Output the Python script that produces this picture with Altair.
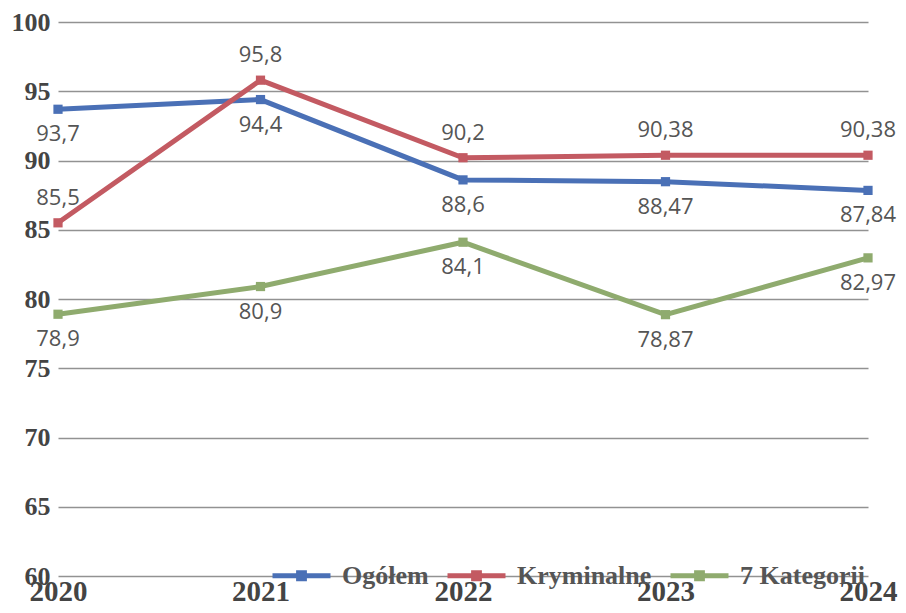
import altair as alt
import pandas as pd

years = [2020, 2021, 2022, 2023, 2024]
series_names = ["Ogółem", "Kryminalne", "7 Kategorii"]
ogolem = [93.7, 94.4, 88.6, 88.47, 87.84]
kryminalne = [85.5, 95.8, 90.2, 90.38, 90.38]
kategorii = [78.9, 80.9, 84.1, 78.87, 82.97]
colors = ["#4a70b6", "#c35a62", "#8fab6e"]
y_ticks = [60, 65, 70, 75, 80, 85, 90, 95, 100]

rows = []
for name, vals in zip(series_names, [ogolem, kryminalne, kategorii]):
    for yr, v in zip(years, vals):
        rows.append({"year": yr, "series": name, "value": v,
                     "label": f"{v:g}".replace(".", ",")})
df = pd.DataFrame(rows)

legend_path = "M-1,0H1M-0.1,-0.1H0.1V0.1H-0.1Z"

x = alt.X("year:Q", scale=alt.Scale(domain=[2020, 2024], nice=False, zero=False),
          axis=alt.Axis(values=years, format="d", labelFlush=False, grid=False,
                        domain=False, ticks=False, labelPadding=1,
                        labelFont="Liberation Serif", labelFontWeight="bold",
                        labelFontSize=29, labelColor="#444444"),
          title=None)
y = alt.Y("value:Q", scale=alt.Scale(domain=[60, 100], nice=False, zero=False),
          axis=alt.Axis(values=y_ticks, grid=True, gridColor="#929292", gridWidth=1.5,
                        domain=False, ticks=False, labelPadding=8,
                        labelFont="Liberation Serif", labelFontWeight="bold",
                        labelFontSize=26, labelColor="#444444"),
          title=None)
stroke_c = alt.Stroke("series:N", scale=alt.Scale(domain=series_names, range=colors),
                      sort=series_names,
                      legend=alt.Legend(title=None, orient="none", direction="horizontal",
                                        legendX=212, legendY=522, padding=0,
                                        symbolType=legend_path, symbolSize=3364,
                                        symbolStrokeWidth=5, symbolOpacity=1,
                                        labelOffset=9, columnPadding=8,
                                        labelFont="Liberation Serif", labelFontWeight="bold",
                                        labelFontSize=26, labelColor="#555555"))
fill_c = alt.Fill("series:N", scale=alt.Scale(domain=series_names, range=colors),
                  sort=series_names, legend=None)

base = alt.Chart(df)
lines = base.mark_line(strokeWidth=5).encode(x=x, y=y, stroke=stroke_c)
points = base.mark_point(shape="square", filled=True, size=85, opacity=1).encode(
    x=x, y=y, fill=fill_c)
lab_font = dict(font="Open Sans", fontSize=22, color="#555555", align="center", baseline="middle")
above = base.transform_filter(alt.datum.series == "Kryminalne").mark_text(dy=-25, **lab_font).encode(
    x=x, y=y, text="label:N")
below = base.transform_filter(alt.datum.series != "Kryminalne").mark_text(dy=25, **lab_font).encode(
    x=x, y=y, text="label:N")

chart = alt.layer(lines, points, above, below).properties(
    width=810, height=554,
    autosize=alt.AutoSizeParams(type="none"),
    padding={"left": 50, "top": 14, "right": 30, "bottom": 29},
    background="white",
).configure_view(stroke=None)

chart.save("out.html", embed_options={"renderer": "svg", "actions": False})
